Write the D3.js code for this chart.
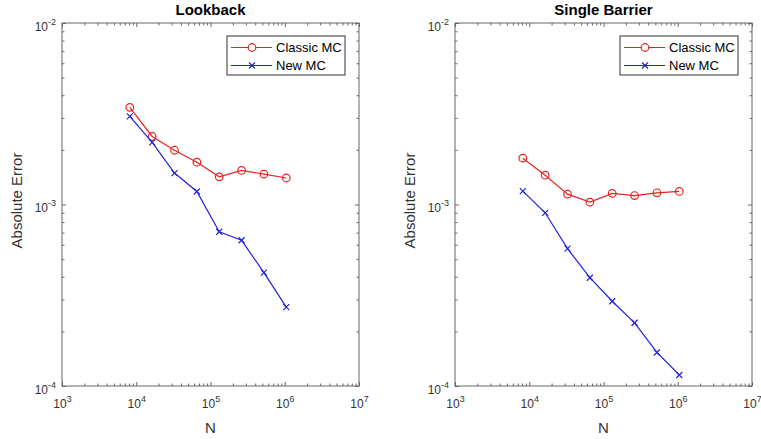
<!DOCTYPE html>
<html>
<head>
<meta charset="utf-8">
<script src="https://cdn.jsdelivr.net/npm/d3@7"></script>
<style>
  body { margin: 0; background: #fff; }
  svg { display: block; font-family: "Liberation Sans", Arial, sans-serif; }
</style>
</head>
<body>
<svg id="chart"></svg>
<script>
// Data (N = 2^13 ... 2^20)
const nValues = [8192, 16384, 32768, 65536, 131072, 262144, 524288, 1048576];

const lookbackClassic = [3.43e-3, 2.37e-3, 1.99e-3, 1.71e-3, 1.42e-3, 1.54e-3, 1.47e-3, 1.40e-3];
const lookbackNew     = [3.06e-3, 2.20e-3, 1.49e-3, 1.18e-3, 7.08e-4, 6.35e-4, 4.21e-4, 2.72e-4];

const barrierClassic = [1.80e-3, 1.45e-3, 1.14e-3, 1.03e-3, 1.15e-3, 1.12e-3, 1.16e-3, 1.18e-3];
const barrierNew     = [1.185e-3, 9.0e-4, 5.71e-4, 3.95e-4, 2.93e-4, 2.23e-4, 1.53e-4, 1.15e-4];

const panelTitles = ["Lookback", "Single Barrier"];
const seriesNames = ["Classic MC", "New MC"];
const xTickExps = [3, 4, 5, 6, 7];
const yTickExps = [-4, -3, -2];
const xLabel = "N";
const yLabel = "Absolute Error";

// Layout
const W = 761, H = 439;
const plotTop = 23, plotBottom = 386, plotW = 297;
const panelLefts = [62, 455];
const red = "#e82222", blue = "#2222dc";
const axisColor = "#666", textColor = "#333";

const svg = d3.select("#chart").attr("width", W).attr("height", H);

// minor tick values for log axes
function minorTicks(lo, hi) {
    const out = [];
    for (let e = lo; e < hi; e++) {
        for (let k = 2; k <= 9; k++) out.push(k * Math.pow(10, e));
    }
    return out;
}

// write "10^e" labels with a superscript
function supLabels(sel) {
    sel.selectAll(".tick text").each(function(d) {
        const t = d3.select(this);
        const e = Math.round(Math.log10(d));
        t.text(null);
        t.append("tspan").text("10");
        t.append("tspan").attr("dy", -6).attr("font-size", 9).text(e);
    });
}

function drawPanel(idx, classic, newer) {
    const left = panelLefts[idx];
    const h = plotBottom - plotTop;

    const x = d3.scaleLog().domain([1e3, 1e7]).range([0, plotW]);
    const y = d3.scaleLog().domain([1e-4, 1e-2]).range([h, 0]);

    const g = svg.append("g").attr("transform", `translate(${left},${plotTop})`);

    const xMajor = xTickExps.map(e => Math.pow(10, e));
    const yMajor = yTickExps.map(e => Math.pow(10, e));
    const xMinor = minorTicks(3, 7);
    const yMinor = minorTicks(-4, -2);

    // minor ticks on all four sides
    const minorGroups = [
        [d3.axisBottom(x).tickValues(xMinor), `translate(0,${h})`],
        [d3.axisTop(x).tickValues(xMinor), "translate(0,0)"],
        [d3.axisLeft(y).tickValues(yMinor), "translate(0,0)"],
        [d3.axisRight(y).tickValues(yMinor), `translate(${plotW},0)`]
    ];
    minorGroups.forEach(([ax, tr]) => {
        g.append("g").attr("transform", tr)
            .call(ax.tickSize(-2.5).tickFormat(""))
            .call(s => s.select(".domain").remove())
            .call(s => s.selectAll("line").attr("stroke", axisColor));
    });

    // major ticks, mirrored on top/right
    const xAxis = g.append("g").attr("transform", `translate(0,${h})`)
        .call(d3.axisBottom(x).tickValues(xMajor).tickSize(-4).tickPadding(21));
    const yAxis = g.append("g")
        .call(d3.axisLeft(y).tickValues(yMajor).tickSize(-4).tickPadding(6));
    g.append("g").call(d3.axisTop(x).tickValues(xMajor).tickSize(-4).tickFormat(""));
    g.append("g").attr("transform", `translate(${plotW},0)`)
        .call(d3.axisRight(y).tickValues(yMajor).tickSize(-4).tickFormat(""));

    g.selectAll(".domain").remove();
    g.selectAll(".tick line").attr("stroke", axisColor);

    [xAxis, yAxis].forEach(a => {
        a.selectAll(".tick text")
            .attr("fill", textColor)
            .attr("font-size", 12)
            .attr("font-family", "Liberation Sans, Arial, sans-serif");
        supLabels(a);
    });
    yAxis.selectAll(".tick text").attr("dy", "0.62em");
    xAxis.selectAll(".tick text").attr("dy", "0.1em");

    // box
    g.append("rect")
        .attr("width", plotW).attr("height", h)
        .attr("fill", "none").attr("stroke", axisColor).attr("stroke-width", 1);

    // lines
    const line = d3.line().x((d, i) => x(nValues[i])).y(d => y(d));

    g.append("path").datum(classic)
        .attr("d", line).attr("fill", "none").attr("stroke", red).attr("stroke-width", 1.2);
    g.selectAll(".circ").data(classic).enter().append("circle")
        .attr("class", "circ")
        .attr("cx", (d, i) => x(nValues[i])).attr("cy", d => y(d)).attr("r", 3.8)
        .attr("fill", "none").attr("stroke", red).attr("stroke-width", 1.2);

    g.append("path").datum(newer)
        .attr("d", line).attr("fill", "none").attr("stroke", blue).attr("stroke-width", 1.2);
    g.selectAll(".xm").data(newer).enter().append("path")
        .attr("class", "xm")
        .attr("transform", (d, i) => `translate(${x(nValues[i])},${y(d)})`)
        .attr("d", "M-3,-3L3,3M-3,3L3,-3")
        .attr("stroke", blue).attr("stroke-width", 1.2).attr("fill", "none");

    // title
    g.append("text")
        .attr("x", plotW / 2).attr("y", -8)
        .attr("text-anchor", "middle")
        .attr("font-weight", "bold").attr("font-size", 15)
        .attr("fill", "#000")
        .text(panelTitles[idx]);

    // axis labels
    g.append("text")
        .attr("x", plotW / 2).attr("y", h + 47)
        .attr("text-anchor", "middle")
        .attr("font-size", 15).attr("fill", textColor)
        .text(xLabel);
    g.append("text")
        .attr("transform", `translate(-40,${h / 2 - 4}) rotate(-90)`)
        .attr("text-anchor", "middle")
        .attr("font-size", 15).attr("fill", textColor)
        .text(yLabel);

    // legend
    const lg = g.append("g").attr("transform", `translate(${plotW - 132},13)`);
    lg.append("rect").attr("width", 118).attr("height", 39)
        .attr("fill", "#fff").attr("stroke", "#333").attr("stroke-width", 1);
    const rows = [
        { name: seriesNames[0], color: red, marker: "circle", yy: 11.5 },
        { name: seriesNames[1], color: blue, marker: "x", yy: 29.5 }
    ];
    rows.forEach(r => {
        lg.append("line").attr("x1", 4).attr("x2", 45).attr("y1", r.yy).attr("y2", r.yy)
            .attr("stroke", r.color).attr("stroke-width", 1.2);
        if (r.marker === "circle") {
            lg.append("circle").attr("cx", 25).attr("cy", r.yy).attr("r", 3.8)
                .attr("fill", "#fff").attr("stroke", r.color).attr("stroke-width", 1.2);
        } else {
            lg.append("path").attr("transform", `translate(25,${r.yy})`)
                .attr("d", "M-3,-3L3,3M-3,3L3,-3").attr("stroke", r.color).attr("stroke-width", 1.2);
        }
        lg.append("text").attr("x", 49).attr("y", r.yy + 4.5)
            .attr("font-size", 13).attr("fill", "#000").text(r.name);
    });
}

drawPanel(0, lookbackClassic, lookbackNew);
drawPanel(1, barrierClassic, barrierNew);
</script>
</body>
</html>
